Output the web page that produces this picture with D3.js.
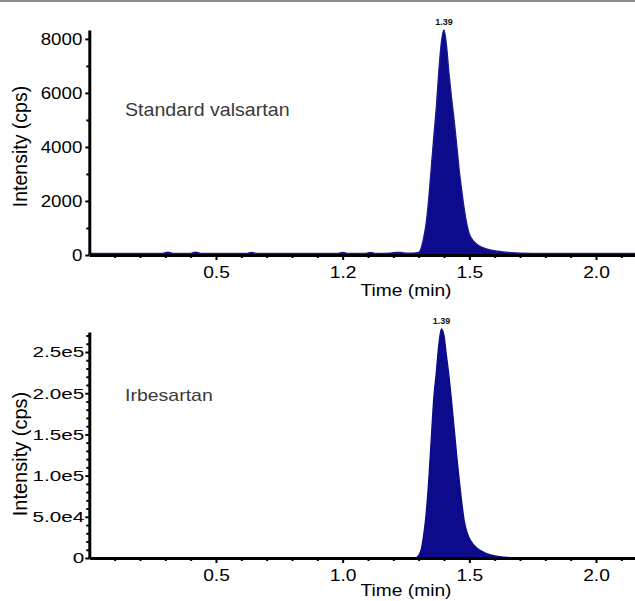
<!DOCTYPE html>
<html>
<head>
<meta charset="utf-8">
<script src="https://cdn.jsdelivr.net/npm/d3@7"></script>
<style>
  body { margin: 0; background: #fff; }
  svg { display: block; }
  text { font-family: "Liberation Sans", Arial, Helvetica, sans-serif; }
</style>
</head>
<body>
<svg id="vis"></svg>
<script>
// canvas size of the reference picture
const width = 635;
const height = 601;

// tick values and the labels printed under them (top panel really says 1.2 at 1.0)
const timeTicks = [0.5, 1.0, 1.5, 2.0];
const valsartanTimeLabels = ["0.5", "1.2", "1.5", "2.0"];
const irbesartanTimeLabels = ["0.5", "1.0", "1.5", "2.0"];
const minorTimeTicks = [0.1, 0.2, 0.3, 0.4, 0.6, 0.7, 0.8, 0.9, 1.1, 1.2, 1.3, 1.4,
  1.6, 1.7, 1.8, 1.9, 2.1];

const valsartanYTicks = [0, 2000, 4000, 6000, 8000];
const valsartanYLabels = ["0", "2000", "4000", "6000", "8000"];
const irbesartanYTicks = [0, 50000, 100000, 150000, 200000, 250000];
const irbesartanYLabels = ["0", "5.0e4", "1.0e5", "1.5e5", "2.0e5", "2.5e5"];

// chromatogram traces (time in min, intensity in cps)
const valsartanTime = [0.00, 0.10, 0.20, 0.29, 0.31, 0.33, 0.40, 0.42, 0.44, 0.62, 0.64, 0.66,
  0.98, 1.00, 1.02, 1.09, 1.11, 1.13, 1.19, 1.21, 1.23, 1.25, 1.28, 1.30, 1.31, 1.32, 1.33,
  1.34, 1.35, 1.36, 1.37, 1.38, 1.39, 1.40, 1.41, 1.42, 1.43, 1.44, 1.45, 1.46, 1.47, 1.48,
  1.49, 1.50, 1.51, 1.52, 1.54, 1.57, 1.61, 1.66, 1.70, 1.80, 1.90, 2.00, 2.16];
const valsartanIntensity = [60, 60, 60, 60, 110, 60, 60, 110, 60, 60, 100, 60,
  60, 100, 60, 60, 100, 60, 70, 100, 95, 70, 70, 100, 250, 650, 1200,
  2100, 3250, 4400, 5500, 6850, 7900, 8330, 7750, 6700, 5800, 5000, 4100, 3150, 2400, 1700,
  1150, 780, 600, 480, 330, 220, 140, 90, 70, 60, 60, 60, 60];

const irbesartanTime = [0.00, 0.50, 1.00, 1.28, 1.29, 1.30, 1.31, 1.32, 1.33, 1.34, 1.35,
  1.36, 1.37, 1.38, 1.39, 1.40, 1.41, 1.42, 1.43, 1.44, 1.45, 1.46, 1.47, 1.48, 1.49, 1.50,
  1.52, 1.55, 1.58, 1.62, 1.66, 1.70, 2.00, 2.16];
const irbesartanIntensity = [0, 0, 0, 0, 500, 3000, 10000, 28000, 55000, 95000, 145000,
  195000, 226000, 260000, 278000, 270000, 245000, 220000, 190000, 158000, 125000, 95000,
  68000, 45000, 32000, 24000, 15000, 8000, 4000, 1500, 500, 0, 0, 0];

const peakLabel = "1.39";

const svg = d3.select("#vis").attr("width", width).attr("height", height);

// thin grey rule along the top edge of the picture
svg.append("rect").attr("x", 0).attr("y", 0).attr("width", width).attr("height", 2)
  .attr("fill", "#8c8c8c");

// stretch text sideways, the picture's glyphs are wider than normal
function stretch(sel, s, origin) {
  sel.style("transform-box", "fill-box")
    .style("transform-origin", origin)
    .style("transform", "scaleX(" + s + ")");
}

// x scale shared by both panels
const xScale = d3.scaleLinear().domain([0, 2.154]).range([89.3, 635]);

function drawPanel(p) {
  const g = svg.append("g");
  const yScale = d3.scaleLinear().domain([0, p.yMax]).range([p.bottom, p.top]);

  const area = d3.area()
    .x((d, i) => xScale(p.time[i]))
    .y0(yScale(0))
    .y1(d => yScale(d))
    .curve(d3.curveMonotoneX);
  const line = d3.line()
    .x((d, i) => xScale(p.time[i]))
    .y(d => yScale(d))
    .curve(d3.curveMonotoneX);

  g.append("path").datum(p.values).attr("d", area).attr("fill", "#0b0b8c");
  g.append("path").datum(p.values).attr("d", line)
    .attr("fill", "none").attr("stroke", p.lineColor).attr("stroke-width", 1.3);

  // minor ticks first so the axis line sits on top
  g.append("g").attr("transform", "translate(0," + p.bottom + ")")
    .call(d3.axisBottom(xScale).tickValues(minorTimeTicks).tickSize(3).tickFormat(""))
    .call(a => a.select(".domain").remove())
    .selectAll("line").attr("stroke-width", 2);
  g.append("g").attr("transform", "translate(89.3,0)")
    .call(d3.axisLeft(yScale).tickValues(p.yMinor).tickSize(3).tickFormat(""))
    .call(a => a.select(".domain").remove())
    .selectAll("line").attr("stroke-width", 2);

  const xAxis = g.append("g").attr("transform", "translate(0," + p.bottom + ")")
    .call(d3.axisBottom(xScale).tickValues(timeTicks).tickSize(5).tickSizeOuter(0)
      .tickPadding(7).tickFormat((d, i) => p.xLabels[i]));
  xAxis.select(".domain").attr("stroke-width", 3);
  xAxis.selectAll("line").attr("stroke-width", 2);
  xAxis.selectAll("text").attr("font-size", 16).attr("fill", "#000")
    .call(stretch, 1.2, "center");

  const yAxis = g.append("g").attr("transform", "translate(89.3,0)")
    .call(d3.axisLeft(yScale).tickValues(p.yTicks).tickSize(4).tickSizeOuter(0)
      .tickPadding(p.yPad).tickFormat((d, i) => p.yLabels[i]));
  yAxis.select(".domain").attr("stroke-width", 3);
  yAxis.selectAll("line").attr("stroke-width", 2);
  yAxis.selectAll("text").attr("font-size", p.yFont).attr("fill", "#000")
    .call(stretch, p.yStretch, "right");

  // axis titles
  g.append("text").attr("x", 406).attr("y", p.timeTitleY)
    .attr("text-anchor", "middle").attr("font-size", 17).attr("fill", "#000")
    .text("Time (min)").call(stretch, 1.13, "center");
  g.append("g").attr("transform", "translate(27," + p.yTitleY + ") rotate(-90)")
    .append("text").attr("text-anchor", "middle").attr("font-size", p.yTitleFont)
    .attr("fill", "#000").text("Intensity (cps)");

  // compound name and retention time label
  g.append("text").attr("x", 125).attr("y", p.nameY)
    .attr("font-size", p.nameFont).attr("fill", "#3a3a3a")
    .text(p.name).call(stretch, p.nameStretch, "left");
  const iMax = d3.maxIndex(p.values);
  g.append("text").attr("x", xScale(p.time[iMax])).attr("y", yScale(p.values[iMax]) - 5)
    .attr("text-anchor", "middle").attr("font-size", 9).attr("font-weight", "bold")
    .attr("fill", "#111").text(peakLabel);
}

drawPanel({
  time: valsartanTime, values: valsartanIntensity, lineColor: "#1a1a96",
  top: 30, bottom: 255, yMax: 8330,
  yTicks: valsartanYTicks, yLabels: valsartanYLabels, yMinor: [1000, 3000, 5000, 7000],
  yFont: 17, yStretch: 1.1, yPad: 3, xLabels: valsartanTimeLabels,
  timeTitleY: 296, yTitleY: 146.5, yTitleFont: 19.5,
  name: "Standard valsartan", nameY: 116, nameFont: 18, nameStretch: 1.09
});

drawPanel({
  time: irbesartanTime, values: irbesartanIntensity, lineColor: "#0b0b8c",
  top: 332, bottom: 558, yMax: 274300,
  yTicks: irbesartanYTicks, yLabels: irbesartanYLabels,
  yMinor: d3.range(10000, 274000, 10000).filter(v => v % 50000 !== 0),
  yFont: 15, yStretch: 1.38, yPad: 1, xLabels: irbesartanTimeLabels,
  timeTitleY: 596, yTitleY: 454, yTitleFont: 20,
  name: "Irbesartan", nameY: 401, nameFont: 16, nameStretch: 1.22
});
</script>
</body>
</html>
